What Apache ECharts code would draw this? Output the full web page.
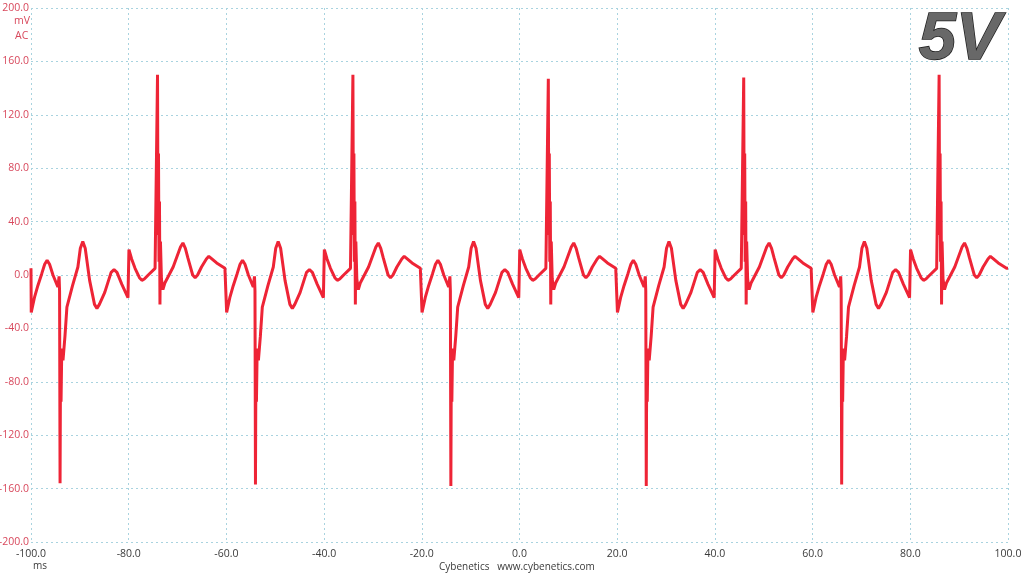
<!DOCTYPE html>
<html>
<head>
<meta charset="utf-8">
<script src="https://cdn.jsdelivr.net/npm/echarts@6/dist/echarts.min.js"></script>
<style>
  html, body { margin: 0; padding: 0; background: #fff; }
  #scope { width: 1024px; height: 576px; }
</style>
</head>
<body>
<div id="scope"></div>
<script>
// start of each 40 ms cycle (ms)
var cycleStart = [-100, -60, -20, 20, 60];
// spike heights per cycle (mV)
var posPeak = [150, 150, 147, 148, 150];
var negPeak = [-156, -157, -158, -158, -157];

// one cycle: time from cycle start (ms) and value (mV)
var cycleT = [0, 0.05, 0.7, 1.4, 2.2, 2.8, 3.3, 3.8, 4.5, 5.5, 5.75, 5.85, 5.95,
  6.05, 6.15, 6.3, 6.55, 6.95, 7.35, 8.5, 9.6, 10.1, 10.6, 11.1, 12.0, 13.0, 13.5, 14.0,
  15.1, 16.4, 17.0, 17.6, 18.6, 19.85, 20.05, 20.6, 21.3, 22.2, 22.7, 23.2, 24.0, 25.4,
  25.8, 25.9, 26.0, 26.1, 26.2, 26.3, 26.4, 26.5, 26.7, 27.0, 27.4, 29.1, 30.6, 31.1,
  31.6, 32.1, 33.1, 33.6, 34.1, 34.9, 35.9, 36.4, 36.9, 38.0, 39.7];
var cycleV = [5, -28, -17, -8, 1, 8, 11, 8, 0, -9, -1, -12, -157,
  -60, -95, -55, -64, -46, -24, -8, 6, 20, 25, 20, -4, -22, -25, -22,
  -13, 2, 4, 2, -7, -17, 19, 12, 5, -2, -4, -3, 0, 5,
  6, 150, 30, 91, 10, 55, -22, 25, -3, -11, -6, 6, 21, 24,
  20, 13, 0, -2, 0, 6, 12, 14, 12.5, 9, 5];
var negIdx = cycleT.indexOf(5.95), posIdx = cycleT.indexOf(25.9);

var xTicks = [-100, 100, 20];
var yTicks = [-200, 200, 40];

var trace = [];
cycleStart.forEach(function (t0, c) {
    for (var i = 0; i < cycleT.length; i++) {
        var v = cycleV[i];
        if (i === negIdx) v = negPeak[c];
        if (i === posIdx) v = posPeak[c];
        trace.push([t0 + cycleT[i], v]);
    }
});
trace.push([100, 5]);

var chart = echarts.init(document.getElementById('scope'));
var gridColor = '#a9d3df';
var option = {
    backgroundColor: '#ffffff',
    animation: false,
    grid: { left: 31, right: 16, top: 8, bottom: 34, outerBoundsMode: 'none', containLabel: false },
    xAxis: {
        type: 'value',
        min: xTicks[0], max: xTicks[1], interval: xTicks[2],
        axisLine: { show: false },
        axisTick: { show: false },
        axisLabel: {
            margin: 7,
            color: '#3a3a3a',
            fontFamily: 'Open Sans',
            fontSize: 10.5,
            formatter: function (v) { return v.toFixed(1); }
        },
        splitLine: { show: true, lineStyle: { color: gridColor, type: [2, 3], width: 1 } }
    },
    yAxis: {
        type: 'value',
        min: yTicks[0], max: yTicks[1], interval: yTicks[2],
        axisLine: { show: false },
        axisTick: { show: false },
        axisLabel: {
            margin: 2,
            color: '#d8485c',
            fontFamily: 'Open Sans',
            fontSize: 10.5,
            formatter: function (v) { return v.toFixed(1); }
        },
        splitLine: { show: true, lineStyle: { color: gridColor, type: [2, 3], width: 1 } }
    },
    graphic: [
        { type: 'text', left: 14, top: 16, style: { text: 'mV', fill: '#d8485c', font: '10.5px "Open Sans"' } },
        { type: 'text', left: 15, top: 31, style: { text: 'AC', fill: '#d8485c', font: '10.5px "Open Sans"' } },
        { type: 'text', left: 33, top: 561, style: { text: 'ms', fill: '#3a3a3a', font: '10px "Open Sans"' } },
        { type: 'text', left: 439, top: 562, style: { text: 'Cybenetics   www.cybenetics.com', fill: '#3a3a3a', font: '10px "Open Sans"' } },
        {
            type: 'text', left: 918, top: 6,
            style: {
                text: '5V',
                font: 'italic bold 67px "Liberation Sans"',
                fill: '#686868',
                stroke: '#1e1e1e',
                lineWidth: 1.5,
                shadowBlur: 2,
                shadowColor: 'rgba(0,0,0,0.35)',
                shadowOffsetX: 1,
                shadowOffsetY: 1
            }
        }
    ],
    series: [{
        type: 'line',
        data: trace,
        showSymbol: false,
        smooth: false,
        lineStyle: { color: '#ee2436', width: 3 },
        z: 3
    }]
};
chart.setOption(option);
window.onresize = chart.resize;
</script>
</body>
</html>
